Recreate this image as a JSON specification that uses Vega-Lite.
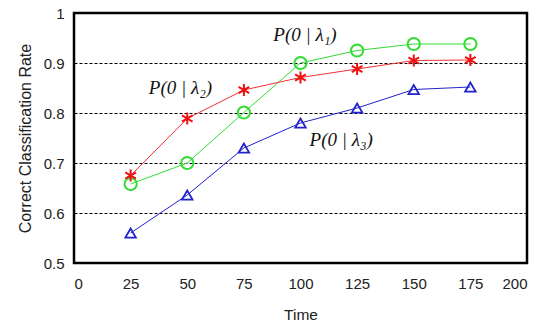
{
  "$schema": "https://vega.github.io/schema/vega-lite/v6.json",
  "width": 453,
  "height": 250,
  "autosize": {"type": "none"},
  "padding": {"left": 74, "top": 13, "right": 13, "bottom": 62},
  "config": {
    "view": {"stroke": "black", "strokeWidth": 2.5},
    "font": "Liberation Sans"
  },
  "datasets": {
    "series": [
      {"time": 25, "rate": 0.658, "s": "g"},
      {"time": 50, "rate": 0.700, "s": "g"},
      {"time": 75, "rate": 0.801, "s": "g"},
      {"time": 100, "rate": 0.900, "s": "g"},
      {"time": 125, "rate": 0.925, "s": "g"},
      {"time": 150, "rate": 0.938, "s": "g"},
      {"time": 175, "rate": 0.938, "s": "g"},
      {"time": 25, "rate": 0.675, "s": "r"},
      {"time": 50, "rate": 0.789, "s": "r"},
      {"time": 75, "rate": 0.846, "s": "r"},
      {"time": 100, "rate": 0.871, "s": "r"},
      {"time": 125, "rate": 0.888, "s": "r"},
      {"time": 150, "rate": 0.905, "s": "r"},
      {"time": 175, "rate": 0.906, "s": "r"},
      {"time": 25, "rate": 0.560, "s": "b"},
      {"time": 50, "rate": 0.636, "s": "b"},
      {"time": 75, "rate": 0.730, "s": "b"},
      {"time": 100, "rate": 0.780, "s": "b"},
      {"time": 125, "rate": 0.810, "s": "b"},
      {"time": 150, "rate": 0.847, "s": "b"},
      {"time": 175, "rate": 0.852, "s": "b"}
    ],
    "labels": [
      {"time": 102, "rate": 0.957, "t": "P(0 | λ₁)"},
      {"time": 47, "rate": 0.851, "t": "P(0 | λ₂)"},
      {"time": 118, "rate": 0.746, "t": "P(0 | λ₃)"}
    ]
  },
  "encoding": {
    "x": {
      "field": "time", "type": "quantitative",
      "scale": {"domain": [0, 200], "nice": false},
      "axis": {
        "values": [0, 25, 50, 75, 100, 125, 150, 175, 200],
        "title": "Time", "titleFontWeight": "normal", "titleFontSize": 15.5, "titleColor": "#222",
        "titlePadding": 16,
        "labelFontSize": 15, "labelColor": "#222", "labelPadding": 13,
        "ticks": false, "domain": false, "grid": false
      }
    },
    "y": {
      "field": "rate", "type": "quantitative",
      "scale": {"domain": [0.5, 1], "nice": false, "zero": false},
      "axis": {
        "values": [0.5, 0.6, 0.7, 0.8, 0.9, 1],
        "format": ".1~f",
        "title": "Correct Classification Rate", "titleFontWeight": "normal", "titleFontSize": 16, "titleColor": "#222",
        "titlePadding": 10,
        "labelFontSize": 15, "labelColor": "#222", "labelPadding": 10,
        "ticks": false, "domain": false,
        "grid": true, "gridColor": "black", "gridDash": [3, 2], "gridWidth": 1.2,
        "gridOpacity": 1
      }
    }
  },
  "layer": [
    {
      "data": {"name": "series"},
      "mark": {"type": "line", "strokeWidth": 1},
      "encoding": {
        "color": {"field": "s", "type": "nominal",
          "scale": {"domain": ["g", "r", "b"], "range": ["#33dd33", "#ee3333", "#2222cc"]},
          "legend": null},
        "detail": {"field": "s"}
      }
    },
    {
      "data": {"name": "series"},
      "transform": [{"filter": "datum.s == 'g'"}],
      "mark": {"type": "point", "shape": "circle", "size": 150, "filled": false, "stroke": "#33dd33", "strokeWidth": 2, "opacity": 1},
      "encoding": {}
    },
    {
      "data": {"name": "series"},
      "transform": [{"filter": "datum.s == 'b'"}],
      "mark": {"type": "point", "shape": "triangle-up", "size": 110, "filled": false, "stroke": "#2222cc", "strokeWidth": 1.8, "opacity": 1},
      "encoding": {}
    },
    {
      "data": {"name": "series"},
      "transform": [{"filter": "datum.s == 'r'"}],
      "mark": {"type": "point", "shape": "M0,-1L0,1M-0.87,-0.5L0.87,0.5M-0.87,0.5L0.87,-0.5", "size": 150, "filled": false, "stroke": "#ee1111", "strokeWidth": 2, "opacity": 1},
      "encoding": {}
    },
    {
      "data": {"name": "labels"},
      "mark": {"type": "text", "font": "Liberation Serif", "fontStyle": "italic", "fontSize": 19, "color": "#111"},
      "encoding": {"text": {"field": "t"}}
    }
  ]
}
